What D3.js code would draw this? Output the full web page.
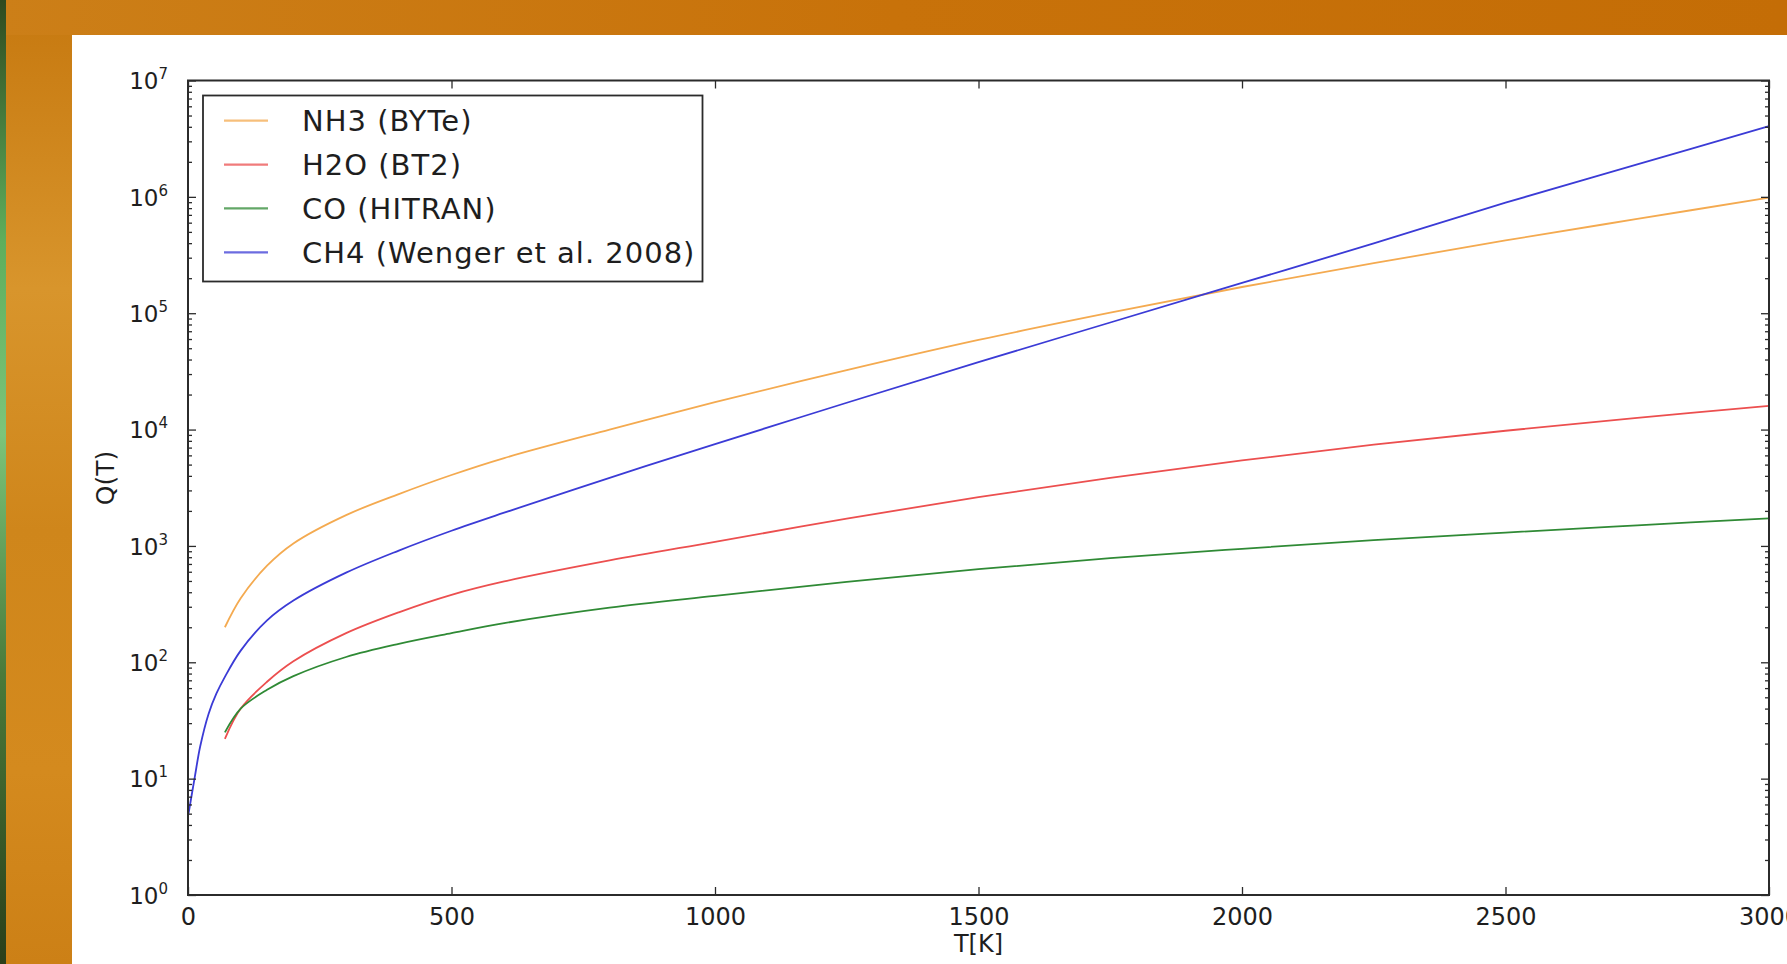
<!DOCTYPE html>
<html>
<head>
<meta charset="utf-8">
<script src="https://cdn.jsdelivr.net/npm/d3@7"></script>
<style>
  html, body { margin: 0; padding: 0; background: #ffffff; overflow: hidden; }
  svg { display: block; }
  text { font-family: "DejaVu Sans", "Liberation Sans", sans-serif; fill: #1e1e1e; }
</style>
</head>
<body>
<svg id="chart" width="1787" height="964"></svg>
<script>
// ---- data ----
const temperatures = [70, 100, 150, 200, 300, 400, 500, 600, 800, 1000, 1250, 1500, 1750, 2000, 2250, 2500, 2750, 3000];
const nh3Values = [200, 355, 676, 1050, 1840, 2790, 4070, 5690, 10000, 17200, 32400, 58900, 101000, 168000, 269000, 422000, 646000, 984000];
const h2oValues = [22, 40, 68, 102, 178, 269, 380, 495, 750, 1084, 1718, 2630, 3846, 5430, 7413, 9772, 12590, 16000];
const coValues  = [25, 40, 58, 76, 111, 144, 178, 217, 295, 372, 490, 631, 785, 944, 1122, 1303, 1503, 1727];
const ch4Temperatures = [1, 13, 23, 39, 54, 70, 100, 150, 200, 300, 400, 500, 600, 800, 1000, 1250, 1500, 1750, 2000, 2250, 2500, 2750, 3000];
const ch4Values = [5.0, 10.4, 18.8, 36, 54, 75, 126, 229, 339, 589, 912, 1350, 1930, 3850, 7500, 17000, 38000, 83200, 182000, 398000, 891000, 1900000, 4060000];

const seriesNames = ["NH3 (BYTe)", "H2O (BT2)", "CO (HITRAN)", "CH4 (Wenger et al. 2008)"];
const seriesColors = ["#f4aa50", "#ec4f4f", "#2f8a35", "#3b3bd6"];
const xTickValues = [0, 500, 1000, 1500, 2000, 2500, 3000];
const yTickExponents = [0, 1, 2, 3, 4, 5, 6, 7];
const xTitle = "T[K]";
const yTitle = "Q(T)";

// ---- layout ----
const W = 1787, H = 964;
const plot = { left: 188, right: 1769, top: 80.5, bottom: 895 };

const svg = d3.select("#chart");

// background frame (orange slide edge)
const defs = svg.append("defs");
const lg = defs.append("linearGradient").attr("id", "leftOrange").attr("x1", 0).attr("y1", 0).attr("x2", 0).attr("y2", 1);
[["0%", "#c6780f"], ["30%", "#d8952c"], ["55%", "#cf861b"], ["80%", "#d48a1e"], ["100%", "#cc8016"]]
  .forEach(([o, c]) => lg.append("stop").attr("offset", o).attr("stop-color", c));
const tg = defs.append("linearGradient").attr("id", "topOrange").attr("x1", 0).attr("y1", 0).attr("x2", 1).attr("y2", 0);
[["0%", "#cc7f18"], ["50%", "#c8720a"], ["100%", "#c46d06"]]
  .forEach(([o, c]) => tg.append("stop").attr("offset", o).attr("stop-color", c));
const gg = defs.append("linearGradient").attr("id", "greenEdge").attr("x1", 0).attr("y1", 0).attr("x2", 0).attr("y2", 1);
[["0%", "#2f4a1f"], ["25%", "#5fae5c"], ["45%", "#7cc47a"], ["70%", "#4a7a3a"], ["100%", "#2a3f1a"]]
  .forEach(([o, c]) => gg.append("stop").attr("offset", o).attr("stop-color", c));

svg.append("rect").attr("x", 0).attr("y", 0).attr("width", W).attr("height", H).attr("fill", "url(#leftOrange)");
svg.append("rect").attr("x", 0).attr("y", 0).attr("width", W).attr("height", 35).attr("fill", "url(#topOrange)");
svg.append("rect").attr("x", 0).attr("y", 0).attr("width", 6).attr("height", H).attr("fill", "url(#greenEdge)");
svg.append("rect").attr("x", 72).attr("y", 35).attr("width", W - 72).attr("height", H - 35).attr("fill", "#ffffff");

// scales
const x = d3.scaleLinear().domain([0, 3000]).range([plot.left, plot.right]);
const y = d3.scaleLog().domain([1, 1e7]).range([plot.bottom, plot.top]);

const minorY = [];
for (let e = 0; e < 7; e++) for (let m = 2; m <= 9; m++) minorY.push(m * Math.pow(10, e));
const majorY = yTickExponents.map(e => Math.pow(10, e));

// lines
const line = d3.line().x(d => x(d.t)).y(d => y(d.q)).curve(d3.curveCatmullRom.alpha(0.5));
const series = [
  temperatures.map((t, i) => ({ t, q: nh3Values[i] })),
  temperatures.map((t, i) => ({ t, q: h2oValues[i] })),
  temperatures.map((t, i) => ({ t, q: coValues[i] })),
  ch4Temperatures.map((t, i) => ({ t, q: ch4Values[i] }))
];
const linesG = svg.append("g");
series.forEach((s, i) => {
  linesG.append("path").datum(s).attr("d", line)
    .attr("fill", "none").attr("stroke", seriesColors[i]).attr("stroke-width", 1.8);
});

// axes
const axisColor = "#2b2b2b";
function styleAxis(g) {
  g.select(".domain").remove();
  g.selectAll(".tick line").attr("stroke", axisColor).attr("stroke-width", 1.3);
}
// bottom
const gx = svg.append("g").attr("transform", `translate(0,${plot.bottom})`)
  .call(d3.axisBottom(x).tickValues(xTickValues).tickSizeInner(-8).tickSizeOuter(0).tickPadding(13).tickFormat(d3.format("d")));
styleAxis(gx);
gx.selectAll(".tick text").attr("font-size", 24).attr("fill", "#1e1e1e");
// top
const gxt = svg.append("g").attr("transform", `translate(0,${plot.top})`)
  .call(d3.axisTop(x).tickValues(xTickValues).tickSizeInner(-8).tickSizeOuter(0).tickFormat(""));
styleAxis(gxt);
// left major
const gy = svg.append("g").attr("transform", `translate(${plot.left},0)`)
  .call(d3.axisLeft(y).tickValues(majorY).tickSizeInner(-8).tickSizeOuter(0).tickPadding(20).tickFormat(""));
styleAxis(gy);
gy.selectAll(".tick text").each(function (d) {
  const t = d3.select(this).attr("font-size", 23).attr("fill", "#1e1e1e").attr("dy", "0.36em");
  t.text(null);
  t.append("tspan").text("10");
  t.append("tspan").attr("font-size", 15).attr("dy", -10).text(Math.round(Math.log10(d)));
});
// left minor
const gym = svg.append("g").attr("transform", `translate(${plot.left},0)`)
  .call(d3.axisLeft(y).tickValues(minorY).tickSizeInner(-4).tickSizeOuter(0).tickFormat(""));
styleAxis(gym);
// right major + minor
const gyr = svg.append("g").attr("transform", `translate(${plot.right},0)`)
  .call(d3.axisRight(y).tickValues(majorY).tickSizeInner(-8).tickSizeOuter(0).tickFormat(""));
styleAxis(gyr);
const gyrm = svg.append("g").attr("transform", `translate(${plot.right},0)`)
  .call(d3.axisRight(y).tickValues(minorY).tickSizeInner(-4).tickSizeOuter(0).tickFormat(""));
styleAxis(gyrm);

// frame
svg.append("rect").attr("x", plot.left).attr("y", plot.top)
  .attr("width", plot.right - plot.left).attr("height", plot.bottom - plot.top)
  .attr("fill", "none").attr("stroke", axisColor).attr("stroke-width", 2);

// titles
svg.append("text").attr("x", (plot.left + plot.right) / 2).attr("y", 952)
  .attr("text-anchor", "middle").attr("font-size", 24).text(xTitle);
svg.append("text").attr("transform", `translate(114,${478}) rotate(-90)`)
  .attr("text-anchor", "middle").attr("font-size", 25).text(yTitle);

// legend
const leg = svg.append("g");
leg.append("rect").attr("x", 203).attr("y", 95.5).attr("width", 499.5).attr("height", 186)
  .attr("fill", "#ffffff").attr("stroke", axisColor).attr("stroke-width", 1.8);
const rowY = d3.scaleLinear().domain([0, 3]).range([120.7, 252.3]);
seriesNames.forEach((name, i) => {
  const yy = rowY(i);
  leg.append("line").attr("x1", 224).attr("x2", 268).attr("y1", yy).attr("y2", yy)
    .attr("stroke", seriesColors[i]).attr("stroke-width", 2.2).attr("opacity", 0.75);
  leg.append("text").attr("x", 302).attr("y", yy + 10.5).attr("font-size", 29)
    .attr("letter-spacing", 1.0).text(name);
});
</script>
</body>
</html>
